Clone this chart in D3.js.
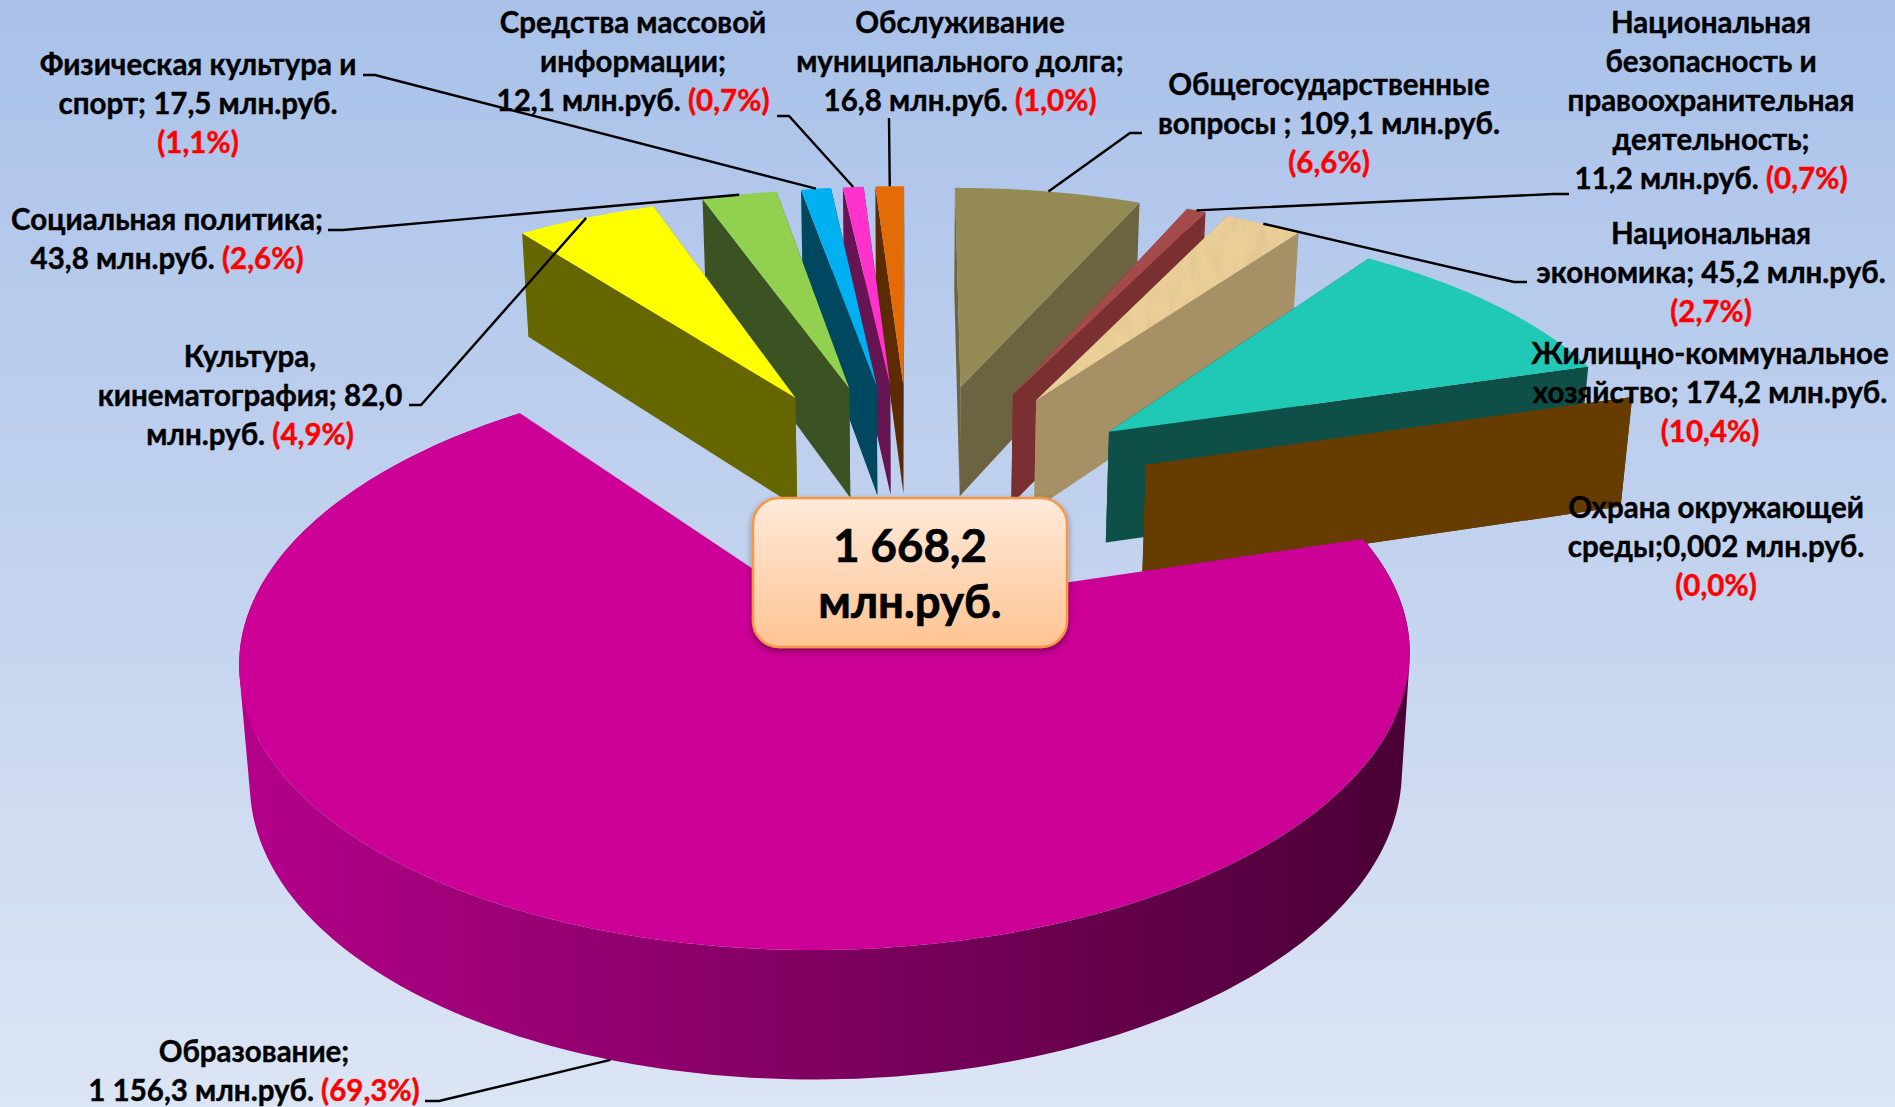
<!DOCTYPE html>
<html>
<head>
<meta charset="utf-8">
<style>
  html, body { margin: 0; padding: 0; }
  svg { display: block; }
  .label { font-family: Lato, "Open Sans", sans-serif; font-weight: 700; font-size: 29.5px; fill: #000; stroke: #000; stroke-width: 0.4px; text-anchor: middle; }
  .pct { fill: #f00; stroke: #f00; }
  .leader { fill: none; stroke: #000; stroke-width: 2.4px; }
  .total { font-family: Lato, "Open Sans", sans-serif; font-weight: 700; font-size: 45.5px; fill: #000; stroke: #000; stroke-width: 0.7px; text-anchor: middle; }
</style>
</head>
<body>
<script src="https://cdnjs.cloudflare.com/ajax/libs/d3/7.8.5/d3.min.js"></script>
<script>
// values in pie order, clockwise from 12 o'clock
var categories = ["Общегосударственные вопросы", "Национальная безопасность", "Национальная экономика",
  "Жилищно-коммунальное хозяйство", "Охрана окружающей среды", "Образование", "Культура, кинематография",
  "Социальная политика", "Физическая культура и спорт", "Средства массовой информации", "Обслуживание долга"];
var values = [109.1, 11.2, 45.2, 174.2, 0.002, 1156.3, 82.0, 43.8, 17.5, 12.1, 16.8];
var totalLines = ["1 668,2", "млн.руб."];

var labelLines = [
  ["Общегосударственные", "вопросы ; 109,1 млн.руб.", "(6,6%)"],
  ["Национальная", "безопасность и", "правоохранительная", "деятельность;", "11,2 млн.руб. (0,7%)"],
  ["Национальная", "экономика; 45,2 млн.руб.", "(2,7%)"],
  ["Жилищно-коммунальное", "хозяйство; 174,2 млн.руб.", "(10,4%)"],
  ["Охрана окружающей", "среды;0,002 млн.руб.", "(0,0%)"],
  ["Образование;", "1 156,3 млн.руб. (69,3%)"],
  ["Культура,", "кинематография; 82,0", "млн.руб. (4,9%)"],
  ["Социальная политика;", "43,8 млн.руб. (2,6%)"],
  ["Физическая культура и", "спорт; 17,5 млн.руб.", "(1,1%)"],
  ["Средства массовой", "информации;", "12,1 млн.руб. (0,7%)"],
  ["Обслуживание", "муниципального долга;", "16,8 млн.руб. (1,0%)"]
];

var topColors = ["#948a54", "#a54a4a", "#eccf98", "#1fc9b6", "#663c00", "#cc0096", "#ffff00", "#92d050", "#00b0f0", "#ff33cc", "#e36c09"];
var wallColors = ["#6c6340", "#7a3030", "#a69066", "#0e5048", "#663c00", "#80005f", "#666600", "#3b5323", "#004860", "#661452", "#5b2b04"];

// how far each slice is pulled out of the pie, in radii
var explodes = [0.472, 0.472, 0.472, 0.462, 0.458, 0.472, 0.472, 0.472, 0.472, 0.472, 0.472];

// label centre x, first baseline y
var labelX = [1329, 1711, 1711, 1710, 1716, 254, 250, 167, 198, 633, 960];
var labelY = [95, 33, 244, 364, 518, 1062, 367, 230, 75, 33, 33];
// elbow of each leader line, null when the label sits next to the slice
var elbows = [
  [[1142, 133], [1130, 133]],
  [[1569, 194], [1553, 194]],
  [[1527, 282], [1514, 282]],
  null,
  null,
  [[425, 1101], [439, 1101]],
  [[409, 405], [421, 405]],
  [[328, 230], [343, 230]],
  [[363, 75], [375, 75]],
  [[777, 116], [789, 116]],
  [[889, 118], [889, 118]]
];

var width = 1895, height = 1107;
var lineStep = 39;

// perspective of the tilted pie plane
var centerX = 911, scaleX = 545, tilt = 0.1323, slopeY = 186.8, baseY = 497.3;
var wallBase = 95, wallGrow = 0.0363, wallShrink = 0.984;

function project(x, y) {
  var w = 1 - tilt * y;
  return [centerX + scaleX * x / w, (slopeY * y + baseY) / w];
}

function drop(p) {
  return [centerX + (p[0] - centerX) * wallShrink, p[1] + wallBase + wallGrow * p[1]];
}

function apex(d) {
  var mid = (d.startAngle + d.endAngle) / 2;
  var e = explodes[d.index];
  return project(e * Math.sin(mid), -e * Math.cos(mid));
}

function rimPoint(d, a) {
  var mid = (d.startAngle + d.endAngle) / 2;
  var e = explodes[d.index];
  return project(e * Math.sin(mid) + Math.sin(a), -e * Math.cos(mid) - Math.cos(a));
}

function rimPoints(d) {
  var n = Math.max(1, Math.ceil((d.endAngle - d.startAngle) / 0.02));
  return d3.range(n + 1).map(function(i) {
    return rimPoint(d, d.startAngle + (d.endAngle - d.startAngle) * i / n);
  });
}

var pie = d3.pie().sort(null).value(function(d) { return d; });
var arcs = pie(values);
var line = d3.line();

var svg = d3.select("body").append("svg")
  .attr("width", width)
  .attr("height", height);

var defs = svg.append("defs");

var bg = defs.append("linearGradient").attr("id", "bg")
  .attr("x1", 0).attr("y1", 0).attr("x2", 0).attr("y2", 1);
bg.append("stop").attr("offset", 0).attr("stop-color", "#a9c1e9");
bg.append("stop").attr("offset", 1).attr("stop-color", "#dce5f4");

var wallGrad = defs.append("linearGradient").attr("id", "mainWall")
  .attr("gradientUnits", "userSpaceOnUse")
  .attr("x1", 240).attr("y1", 0).attr("x2", 1405).attr("y2", 0);
wallGrad.append("stop").attr("offset", 0).attr("stop-color", "#b4008a");
wallGrad.append("stop").attr("offset", 1).attr("stop-color", "#4a0036");

var boxGrad = defs.append("linearGradient").attr("id", "boxFill")
  .attr("x1", 0).attr("y1", 0).attr("x2", 0).attr("y2", 1);
boxGrad.append("stop").attr("offset", 0).attr("stop-color", "#ffeadb");
boxGrad.append("stop").attr("offset", 1).attr("stop-color", "#ffc492");

var shadow = defs.append("filter").attr("id", "boxShadow")
  .attr("x", "-10%").attr("y", "-10%").attr("width", "120%").attr("height", "130%");
shadow.append("feDropShadow").attr("dx", 0).attr("dy", 3).attr("stdDeviation", 3)
  .attr("flood-color", "#000").attr("flood-opacity", 0.4);

// wood grain on the tan slice
var wood = defs.append("filter").attr("id", "wood")
  .attr("x", 0).attr("y", 0).attr("width", "100%").attr("height", "100%");
wood.append("feTurbulence").attr("type", "fractalNoise")
  .attr("baseFrequency", "0.09 0.03").attr("numOctaves", 3).attr("seed", 4).attr("result", "noise");
wood.append("feColorMatrix").attr("in", "noise").attr("type", "matrix")
  .attr("values", "0 0 0 0 0.72  0 0 0 0 0.55  0 0 0 0 0.28  1.6 0 0 0 -0.62").attr("result", "grain");
wood.append("feComposite").attr("in", "grain").attr("in2", "SourceAlpha").attr("operator", "in").attr("result", "clipped");
var woodMerge = wood.append("feMerge");
woodMerge.append("feMergeNode").attr("in", "SourceGraphic");
woodMerge.append("feMergeNode").attr("in", "clipped");

svg.append("rect")
  .attr("width", width)
  .attr("height", height)
  .style("fill", "url(#bg)");

// far slices first, the big one last
var drawOrder = [0, 1, 2, 3, 4, 10, 9, 8, 7, 6, 5];
var mainIndex = 5, woodIndex = 2;
var slices = svg.append("g").attr("class", "slices");

// one quad per rim step, all wound the same way so the fold at the sides stays filled
function wallPath(rim) {
  return d3.pairs(rim).map(function(s) {
    var q = [s[0], s[1], drop(s[1]), drop(s[0])];
    if (d3.polygonArea(q) < 0) q.reverse();
    return line(q) + "Z";
  }).join("");
}

drawOrder.forEach(function(i) {
  var d = arcs[i];
  var g = slices.append("g").attr("class", "slice");
  var rim = rimPoints(d);
  var tip = apex(d);

  if (i === mainIndex) {
    g.append("path")
      .attr("d", wallPath(rim))
      .style("fill", "url(#mainWall)");
  } else {
    [rim[0], rim[rim.length - 1]].forEach(function(p) {
      g.append("path")
        .attr("d", line([p, tip, drop(tip), drop(p)]) + "Z")
        .style("fill", wallColors[i]);
    });
  }

  var top = g.append("path")
    .attr("d", line(rim.concat([tip])) + "Z")
    .style("fill", topColors[i]);
  if (i === woodIndex) top.attr("filter", "url(#wood)");
});

// leader lines end on the rim at the middle of the slice
var leaders = svg.append("g").attr("class", "leaders");
arcs.forEach(function(d, i) {
  if (!elbows[i]) return;
  var mid = (d.startAngle + d.endAngle) / 2;
  var end = rimPoint(d, mid);
  if (i === mainIndex) end = drop(end);
  leaders.append("path")
    .attr("class", "leader")
    .attr("d", line(elbows[i].concat([end])));
});

// total in the middle
var box = svg.append("g").attr("class", "total-box");
box.append("rect")
  .attr("x", 753).attr("y", 498)
  .attr("width", 314).attr("height", 149)
  .attr("rx", 26).attr("ry", 26)
  .style("fill", "url(#boxFill)")
  .style("stroke", "#f79646")
  .style("stroke-width", 2.5)
  .attr("filter", "url(#boxShadow)");
box.selectAll("text")
  .data(totalLines)
  .enter().append("text")
  .attr("class", "total")
  .attr("x", 910)
  .attr("y", function(d, i) { return 562 + i * 56; })
  .text(function(d) { return d; });

// labels, the percentage part in red
var labels = svg.append("g").attr("class", "labels");
labelLines.forEach(function(lines, i) {
  var g = labels.append("g")
    .attr("transform", "translate(" + labelX[i] + "," + labelY[i] + ")");
  lines.forEach(function(l, j) {
    var text = g.append("text").attr("class", "label").attr("y", j * lineStep);
    l.split(/(\(\d[^)]*%\))/).forEach(function(part) {
      if (!part) return;
      text.append("tspan")
        .attr("class", /%/.test(part) ? "pct" : null)
        .text(part);
    });
  });
});
</script>
</body>
</html>
